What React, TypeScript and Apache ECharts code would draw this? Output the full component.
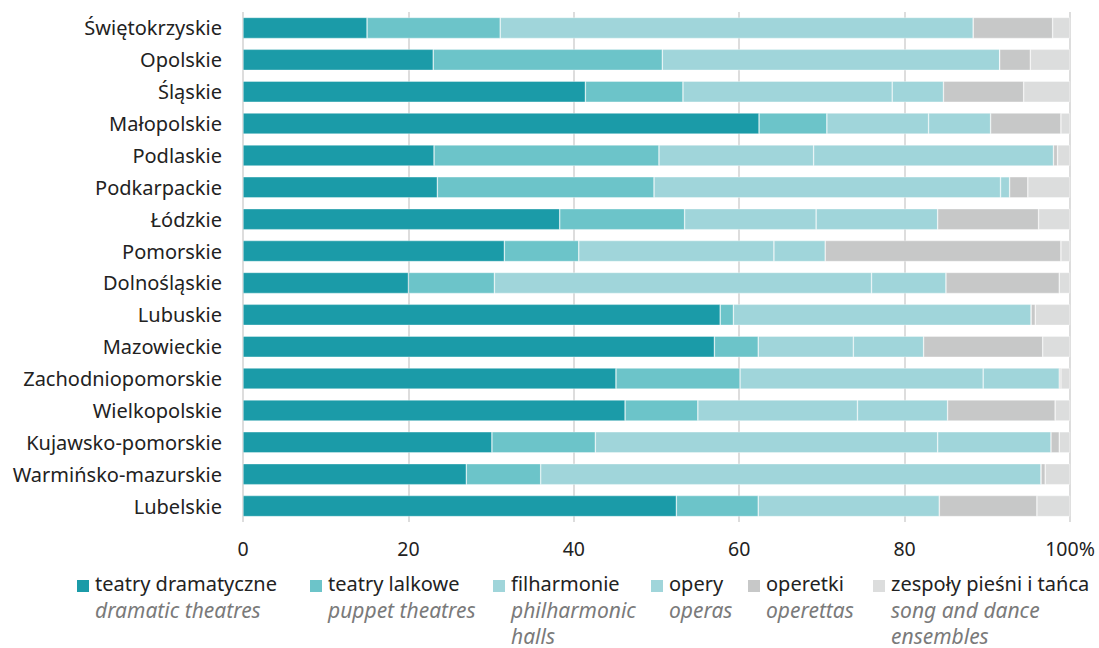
import React, { useEffect, useRef } from "react";
import * as echarts from "echarts";

const regions = [
  "Świętokrzyskie", "Opolskie", "Śląskie", "Małopolskie", "Podlaskie", "Podkarpackie",
  "Łódzkie", "Pomorskie", "Dolnośląskie", "Lubuskie", "Mazowieckie", "Zachodniopomorskie",
  "Wielkopolskie", "Kujawsko-pomorskie", "Warmińsko-mazurskie", "Lubelskie",
];

const seriesNamesPl = ["teatry dramatyczne", "teatry lalkowe", "filharmonie", "opery", "operetki", "zespoły pieśni i tańca"];
const seriesNamesEn = [["dramatic theatres"], ["puppet theatres"], ["philharmonic", "halls"], ["operas"], ["operettas"], ["song and dance", "ensembles"]];
const colors = ["#1b9ba8", "#6cc4c9", "#a0d5da", "#a0d5da", "#c7c8c8", "#dcdddd"];

const dramatic = [15.0, 23.0, 41.4, 62.4, 23.1, 23.5, 38.3, 31.6, 20.0, 57.7, 57.0, 45.1, 46.2, 30.1, 27.0, 52.4];
const puppet = [16.1, 27.7, 11.8, 8.2, 27.2, 26.2, 15.1, 9.0, 10.4, 1.6, 5.3, 15.0, 8.8, 12.5, 9.0, 9.9];
const philharmonic = [57.2, 40.8, 25.3, 12.3, 18.7, 41.9, 15.9, 23.6, 45.6, 36.0, 11.5, 29.4, 19.3, 41.4, 60.5, 21.9];
const opera = [0, 0, 6.2, 7.5, 29.0, 1.1, 14.7, 6.2, 9.0, 0, 8.5, 9.2, 10.9, 13.7, 0, 0];
const operetta = [9.6, 3.7, 9.7, 8.5, 0.5, 2.2, 12.2, 28.5, 13.7, 0.5, 14.4, 0.2, 13.0, 1.0, 0.5, 11.8];
const songDance = [2.1, 4.8, 5.6, 1.1, 1.5, 5.1, 3.8, 1.1, 1.3, 4.2, 3.3, 1.1, 1.8, 1.3, 3.0, 4.0];

const allSeries = [dramatic, puppet, philharmonic, opera, operetta, songDance];
const xTicks = [0, 20, 40, 60, 80, 100];

const legendX = [77, 310, 493, 651, 748, 873];
const FONT = "'Noto Sans', sans-serif";

export default function App() {
  const ref = useRef<HTMLDivElement>(null);
  useEffect(() => {
    const chart = echarts.init(ref.current!, null, { renderer: "svg" });
    const graphics: any[] = [];
    seriesNamesPl.forEach((name, i) => {
      const x = legendX[i];
      graphics.push({ type: "rect", left: x, top: 580, shape: { width: 12, height: 12 }, style: { fill: colors[i] } });
      graphics.push({ type: "text", left: x + 18, top: 573, style: { text: name, fill: "#222", font: `20px ${FONT}` } });
      seriesNamesEn[i].forEach((t, j) => {
        graphics.push({ type: "text", left: x + 18, top: 599 + j * 26, style: { text: t, fill: "#7a7a7a", font: `italic 21px ${FONT}` } });
      });
    });
    chart.setOption({
      animation: false,
      grid: { left: 243, right: 29, top: 12, height: 510, containLabel: false },
      xAxis: {
        type: "value", min: 0, max: 100, interval: 20,
        axisLine: { show: false }, axisTick: { show: false },
        splitLine: { show: true, lineStyle: { color: "#dddddd", width: 2 } },
        axisLabel: {
          margin: 16, color: "#222", fontSize: 19.5, fontFamily: FONT,
          formatter: (v: number) => (v === 100 ? "100%" : String(v)),
          customValues: xTicks,
        },
      },
      yAxis: {
        type: "category", data: regions, inverse: true,
        axisLine: { show: false }, axisTick: { show: false },
        axisLabel: { color: "#222", fontSize: 20, fontFamily: FONT, margin: 21 },
      },
      series: allSeries.map((d, i) => ({
        type: "bar", name: seriesNamesPl[i], stack: "total", data: d,
        barWidth: "66%",
        itemStyle: { color: colors[i], borderColor: "rgba(255,255,255,0.6)", borderWidth: 0.6 },
      })),
      graphic: graphics,
    });
    return () => chart.dispose();
  }, []);
  return <div ref={ref} style={{ width: 1099, height: 648, position: "absolute", left: 0, top: 0 }} />;
}
